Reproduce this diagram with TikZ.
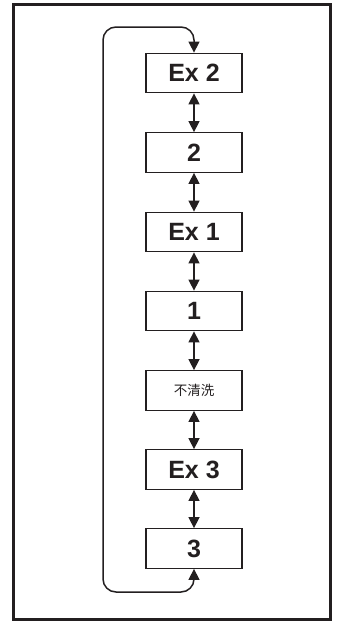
\documentclass[tikz,border=0pt]{standalone}
\usepackage{fontspec}
\setmainfont{Liberation Sans}
\newfontfamily\cjk{Noto Sans CJK SC}
\usetikzlibrary{arrows.meta,positioning}

\definecolor{ink}{RGB}{35,31,32}

\tikzset{
  modebox/.style={draw=ink, line width=1.3pt, minimum width=96pt, minimum height=39.5pt,
    inner sep=0pt, font=\fontsize{25}{28}\selectfont\bfseries, text=ink},
  link/.style={draw=ink, line width=1.5pt, {Triangle[length=11pt,width=11pt]}-{Triangle[length=11pt,width=11pt]}}
}

\begin{document}
\begin{tikzpicture}[x=1pt,y=-1pt]
      \useasboundingbox (0,0) rectangle (339,622);
      \draw[ink, line width=3pt] (13.5,4) rectangle (330.5,619);

      \node[modebox] (ex2) at (194,73) {Ex 2};
      \node[modebox] (m2) at (194,152.5) {2};
      \node[modebox] (ex1) at (194,232) {Ex 1};
      \node[modebox] (m1) at (194,311) {1};
      \node[modebox, font=\cjk\fontsize{13.5}{16}\selectfont] (noclean) at (194,390.5) {不清洗};
      \node[modebox] (ex3) at (194,469.5) {Ex 3};
      \node[modebox] (m3) at (194,548.5) {3};

      \draw[link] (ex2) -- (m2);
      \draw[link] (m2) -- (ex1);
      \draw[link] (ex1) -- (m1);
      \draw[link] (m1) -- (noclean);
      \draw[link] (noclean) -- (ex3);
      \draw[link] (ex3) -- (m3);

      % loop back from 3 to Ex 2
      \coordinate (looptop) at (103,27);
      \coordinate (loopbot) at (103,592);
      \draw[link, rounded corners=13pt] (m3.south) |- (loopbot) -- (looptop) -| (ex2.north);
    \end{tikzpicture}
\end{document}
